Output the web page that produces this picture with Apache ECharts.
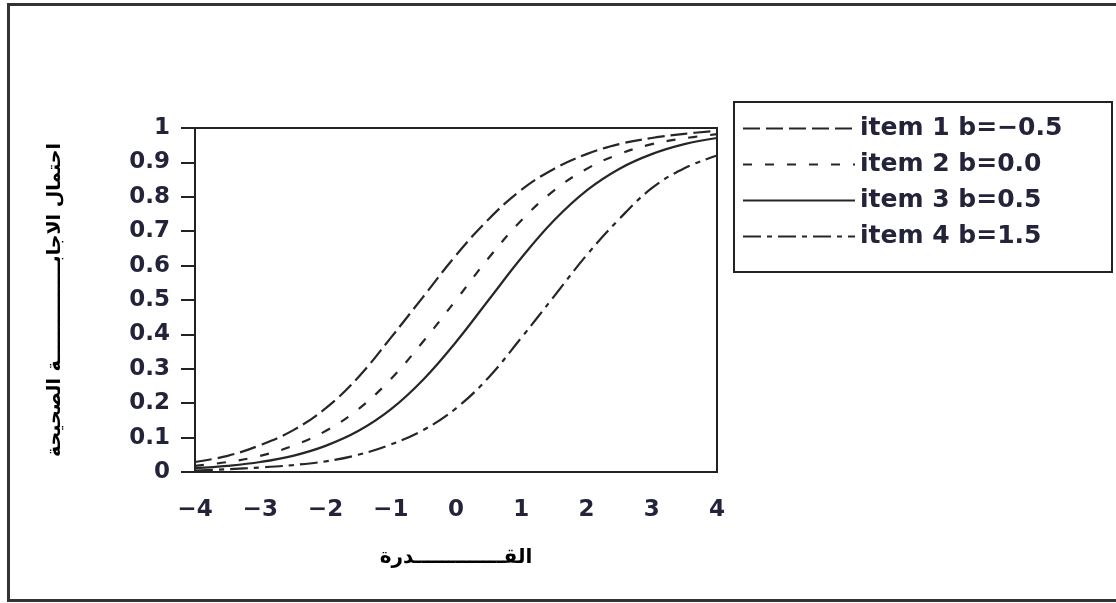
<!DOCTYPE html>
<html>
<head>
<meta charset="utf-8">
<script src="https://cdn.jsdelivr.net/npm/echarts@6/dist/echarts.min.js"></script>
<style>
html,body{margin:0;padding:0;background:#fff;}
#chart{width:1116px;height:603px;}
</style>
</head>
<body>
<div id="chart"></div>
<script>
// Ability values (theta)
var theta = [-4, -3.5, -3, -2.5, -2, -1.5, -1, -0.5, 0, 0.5, 1, 1.5, 2, 2.5, 3, 3.5, 4];
// Probability of correct response
var item1 = [0.029, 0.047, 0.078, 0.121, 0.185, 0.275, 0.39, 0.51, 0.63, 0.735, 0.82, 0.881, 0.924, 0.953, 0.971, 0.983, 0.992];
var item2 = [0.018, 0.029, 0.047, 0.076, 0.119, 0.182, 0.27, 0.38, 0.5, 0.622, 0.731, 0.818, 0.881, 0.924, 0.953, 0.97, 0.982];
var item3 = [0.011, 0.018, 0.029, 0.047, 0.076, 0.119, 0.182, 0.269, 0.378, 0.5, 0.622, 0.731, 0.818, 0.881, 0.924, 0.953, 0.971];
var item4 = [0.004, 0.008, 0.013, 0.02, 0.031, 0.05, 0.08, 0.122, 0.185, 0.275, 0.39, 0.51, 0.63, 0.735, 0.825, 0.883, 0.92];
var seriesNames = ['item 1 b=\u22120.5', 'item 2 b=0.0', 'item 3 b=0.5', 'item 4 b=1.5'];
var xTickLabels = ['\u22124', '\u22123', '\u22122', '\u22121', '0', '1', '2', '3', '4'];
var yTickLabels = ['0', '0.1', '0.2', '0.3', '0.4', '0.5', '0.6', '0.7', '0.8', '0.9', '1'];
var yAxisTitle = 'احتمال الاجابـــــــــــــــة الصحيحة';
var xAxisTitle = 'القـــــــــــــدرة';

function pairs(arr) { return theta.map(function (t, i) { return [t, arr[i]]; }); }

var dashes = [[17, 6], [9, 13], 'solid', [18, 6, 5, 6]];
var allData = [item1, item2, item3, item4];
var lineColor = '#262626';
var textColor = '#23233a';
var fontFam = 'DejaVu Sans';

var chart = echarts.init(document.getElementById('chart'));
chart.setOption({
  animation: false,
  backgroundColor: '#fff',
  grid: {
    left: 195, right: 399, top: 128, bottom: 131,
    show: true, borderColor: '#222', borderWidth: 2,
    outerBoundsMode: 'none'
  },
  legend: {
    orient: 'vertical',
    left: 737, top: 111,
    itemWidth: 112, itemHeight: 14, itemGap: 11,
    itemStyle: { opacity: 0 },
    textStyle: { fontFamily: fontFam, fontSize: 25, fontWeight: 'bold', color: textColor },
    data: seriesNames
  },
  xAxis: {
    type: 'value', min: -4, max: 4, interval: 1,
    axisLine: { show: true, onZero: false, lineStyle: { color: '#222', width: 2 } },
    axisTick: { show: false },
    splitLine: { show: false },
    axisLabel: {
      margin: 27, fontFamily: fontFam, fontSize: 23, fontWeight: 'bold', color: textColor,
      formatter: function (v) { return xTickLabels[Math.round(v) + 4]; }
    },
    name: xAxisTitle, nameLocation: 'middle', nameGap: 76,
    nameTextStyle: { fontFamily: 'DejaVu Sans', fontSize: 20, fontWeight: 'bold', color: '#000' }
  },
  yAxis: {
    type: 'value', min: 0, max: 1, interval: 0.1,
    axisLine: { show: true, onZero: false, lineStyle: { color: '#222', width: 2 } },
    axisTick: { show: true, length: 14, lineStyle: { color: '#222', width: 2 } },
    splitLine: { show: false },
    axisLabel: {
      margin: 25, fontFamily: fontFam, fontSize: 23, fontWeight: 'bold', color: textColor,
      formatter: function (v) { return yTickLabels[Math.round(v * 10)]; }
    },
    name: yAxisTitle, nameLocation: 'middle', nameGap: 130, nameRotate: 90,
    nameTextStyle: { fontFamily: 'DejaVu Sans', fontSize: 19, fontWeight: 'bold', color: '#000' }
  },
  series: allData.map(function (arr, i) {
    return {
      name: seriesNames[i], type: 'line', data: pairs(arr), smooth: 0.4,
      symbol: 'none',
      lineStyle: { color: lineColor, width: 2.2, type: dashes[i] },
      itemStyle: { color: lineColor }
    };
  }),
  graphic: [
    { type: 'rect', shape: { x: 8.5, y: 4.5, width: 1120, height: 596 }, style: { fill: 'none', stroke: '#333', lineWidth: 3 }, silent: true },
    { type: 'rect', shape: { x: 734, y: 102, width: 378, height: 170 }, style: { fill: 'none', stroke: '#222', lineWidth: 2 }, silent: true }
  ]
});
</script>
</body>
</html>
